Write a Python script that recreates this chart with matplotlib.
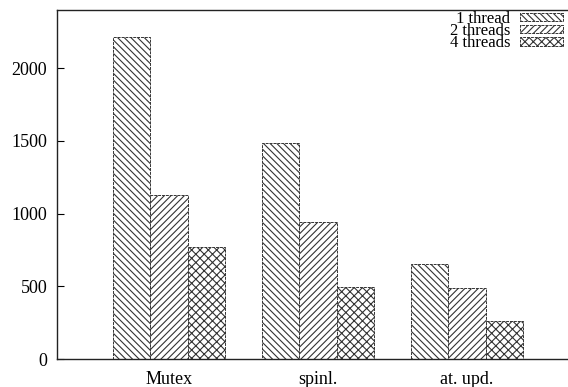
import matplotlib
matplotlib.use("Agg")
import matplotlib.pyplot as plt
import numpy as np

categories = ["Mutex", "spinl.", "at. upd."]
series_names = ["1 thread", "2 threads", "4 threads"]
one_thread = [2211, 1487, 653]
two_threads = [1127, 941, 488]
four_threads = [772, 493, 261]
y_ticks = [0, 500, 1000, 1500, 2000]

plt.rcParams['font.family'] = ['Liberation Serif', 'DejaVu Serif']
plt.rcParams['font.size'] = 13
plt.rcParams['hatch.linewidth'] = 0.8

fig = plt.figure(figsize=(5.68, 3.87), dpi=100)
ax = fig.add_axes([57 / 568, 1 - 359 / 387, 1 - 57 / 568, (359 - 10) / 387])

index = np.arange(len(categories))
width = 0.25
hatches = ['\\\\\\\\\\', '/////', 'xxxx']
edge = '#333333'
values = [one_thread, two_threads, four_threads]
for k, (vals, name) in enumerate(zip(values, series_names)):
    ax.bar(index + (k - 1) * width, vals, width, color='white', edgecolor=edge,
           hatch=hatches[k], linewidth=0.7, linestyle=(0, (3, 1)), label=name)

ax.set_xlim(-0.752, 2.678)
ax.set_ylim(0, 2400)
ax.set_yticks(y_ticks)
ax.set_xticks(index)
ax.set_xticklabels(categories)
ax.tick_params(axis='y', direction='in', length=5, width=0.8, pad=7)
ax.tick_params(axis='x', length=0, pad=9)
ax.spines['right'].set_visible(False)
for s in ['left', 'top', 'bottom']:
    ax.spines[s].set_linewidth(1.0)
    ax.spines[s].set_color('#222222')

ax.legend(loc='upper right', bbox_to_anchor=(0.990, 0.998), frameon=False,
          markerfirst=False, handlelength=2.6, handleheight=0.4,
          handletextpad=0.55, labelspacing=-0.22, borderpad=0,
          borderaxespad=0, fontsize=12)

plt.savefig("out.png", dpi=100)
